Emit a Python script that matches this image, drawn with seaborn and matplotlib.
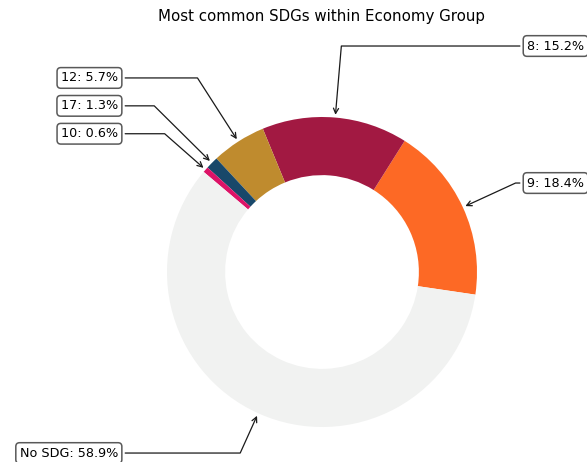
import numpy as np
import matplotlib
matplotlib.use("Agg")
import matplotlib.pyplot as plt
import seaborn as sns

sns.set_theme(style="white")
plt.rcParams['font.family'] = ['DejaVu Sans']
plt.rcParams['text.color'] = 'black'

# data
sdg_labels = ["9", "8", "12", "17", "10", "No SDG"]
sdg_share = [18.4, 15.2, 5.7, 1.3, 0.6, 58.9]
sdg_colors = ["#FD6925", "#A21942", "#BF8B2E", "#19486A", "#DD1367", "#F1F2F1"]

# where each label box sits (data coords)
text_pos = {
    "9": (1.323, 0.574),
    "8": (1.323, 1.458),
    "12": (-1.316, 1.252),
    "17": (-1.316, 1.072),
    "10": (-1.316, 0.892),
    "No SDG": (-1.316, -1.168),
}

fig = plt.figure(figsize=(5.87, 4.62), dpi=100)
ax = fig.add_axes([0, 0, 1, 1])

wedges, _ = ax.pie(sdg_share, colors=sdg_colors, startangle=-8.4,
                   wedgeprops=dict(width=0.375, linewidth=0))

ax.set_xlim(-322 / 155, (587 - 322) / 155)
ax.set_ylim((272 - 462) / 155, 272 / 155)
ax.set_aspect("auto")
ax.axis("off")

bbox_props = dict(boxstyle="round,pad=0.3", fc="w", ec="0.35", lw=1.1)
for w, lab, val in zip(wedges, sdg_labels, sdg_share):
    ang = (w.theta2 - w.theta1) / 2. + w.theta1
    x = np.cos(np.deg2rad(ang))
    y = np.sin(np.deg2rad(ang))
    tx, ty = text_pos[lab]
    ha = "left" if tx > 0 else "right"
    ax.annotate(f"{lab}: {val}%", xy=(x, y), xytext=(tx, ty),
                ha=ha, va="center", fontsize=9.2, color="black", bbox=bbox_props,
                arrowprops=dict(arrowstyle="->", color="0.1", lw=0.9,
                                connectionstyle=f"angle,angleA=0,angleB={ang}"))

fig.text(322 / 587, 1 - 17 / 462, "Most common SDGs within Economy Group",
         ha="center", va="center", fontsize=10.8)

fig.savefig("out.png", dpi=100)
